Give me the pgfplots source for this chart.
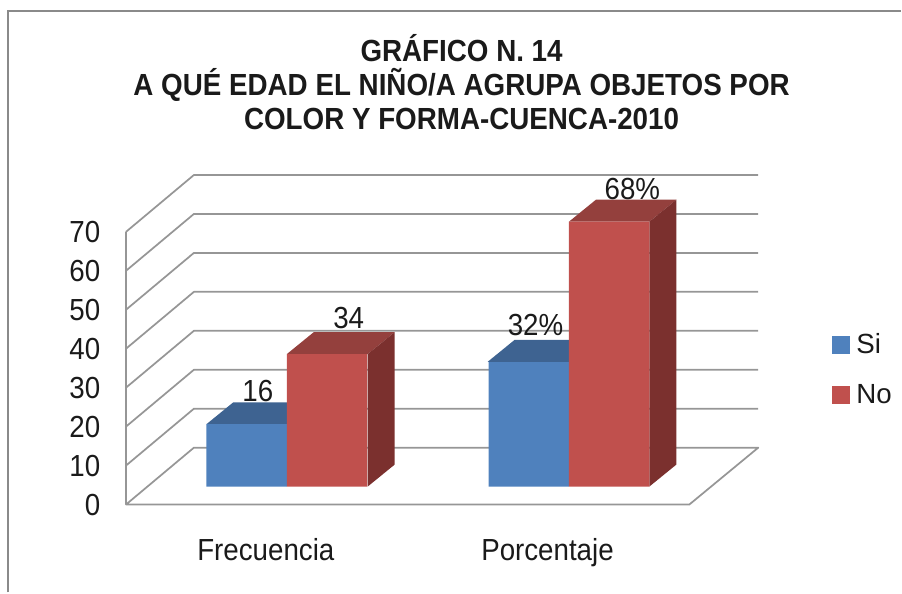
\documentclass[border=0pt]{standalone}
\usepackage{pgfplots}
\pgfplotsset{compat=1.18}
\usepackage{fontspec}
\setmainfont{Liberation Sans}
\definecolor{gridg}{HTML}{969696}
\definecolor{frameg}{HTML}{8A8A8A}
\definecolor{bluef}{HTML}{4F81BD}
\definecolor{bluet}{HTML}{3E6391}
\definecolor{redf}{HTML}{C0504D}
\definecolor{redt}{HTML}{94403D}
\definecolor{reds}{HTML}{7B302E}
\definecolor{txt}{HTML}{1A1A1A}
\pgfplotsset{wall/.style={gridg,line width=1.3pt,no markers,forget plot,line join=round},
 face/.style={draw=none,no markers,forget plot},
 sq/.style={legend image code/.code={\fill[##1] (0pt,-6.75pt) rectangle (13.5pt,6.75pt);}}}
\tikzset{lab/.style={font=\fontsize{20.8}{24}\selectfont,text=txt,yscale=1.1,transform shape}}
\begin{document}
\begin{tikzpicture}
% back structure: scale 3.9 px per unit, floor front at pixel row 505
\begin{axis}[name=back,at={(0,0)},anchor=south west,scale only axis,width=676.5pt,height=444.75pt,
 xmin=0,xmax=902,ymin=-22.564,ymax=129.487,clip=false,
 axis line style={draw=none},major tick length=0pt,xtick=\empty,
 ytick={0,10,20,30,40,50,60,70},
 /pgf/number format/assume math mode=true,
 yticklabel style={lab,xshift=78.75pt}]
\addplot[frameg,line width=1.4pt,no markers,forget plot] coordinates {(8,-22.564)(8,126.7)(902,126.7)};
\addplot[wall] coordinates {(126,70)(194,84.6)(759,84.6)};
\addplot[wall] coordinates {(126,60)(194,74.6)(759,74.6)};
\addplot[wall] coordinates {(126,50)(194,64.6)(759,64.6)};
\addplot[wall] coordinates {(126,40)(194,54.6)(759,54.6)};
\addplot[wall] coordinates {(126,30)(194,44.6)(759,44.6)};
\addplot[wall] coordinates {(126,20)(194,34.6)(759,34.6)};
\addplot[wall] coordinates {(126,10)(194,24.6)(759,24.6)};
\addplot[wall] coordinates {(126,0)(194,14.6)(759,14.6)(690,0)(126,0)(126,70)};
\node[font=\bfseries\fontsize{20.85}{23.2}\selectfont,text=txt,align=center,yscale=1.1,transform shape] at (axis cs:462,108.5) {GRÁFICO N. 14\\A QUÉ EDAD EL NIÑO/A AGRUPA OBJETOS POR\\COLOR Y FORMA-CUENCA-2010};
\end{axis}
% bars: zero at pixel row 487, same scale
\begin{axis}[name=front,at={(0,0)},anchor=south west,scale only axis,width=676.5pt,height=444.75pt,
 xmin=0,xmax=902,ymin=-27.179,ymax=124.872,clip=false,
 axis line style={draw=none},major tick length=0pt,ytick=\empty,
 xtick={266,548},xticklabels={Frecuencia,Porcentaje},
 xticklabel style={lab,yshift=40.5pt},
 legend cell align=left,
 legend style={draw=none,fill=none,at={(axis cs:833,20.1)},anchor=south west,
  font=\fontsize{20.8}{24}\selectfont,text=txt,row sep=17.5pt,inner sep=0pt,
  /tikz/every odd column/.append style={column sep=2.5pt}}]
\addplot[face,fill=bluet] coordinates {(206.5,16)(233.5,21.64)(314,21.64)(287,16)(206.5,16)};
\addplot[ybar,bar shift=-30.2pt,bar width=60.4pt,fill=bluef,draw=none,sq] coordinates {(287,16)(569.5,32)};
\addlegendentry{Si}
\addplot[face,fill=bluet] coordinates {(488,32)(515,37.64)(596,37.64)(569.5,32)(488,32)};
\addplot[face,fill=redt] coordinates {(287,34)(314,39.64)(395,39.64)(368,34)(287,34)};
\addplot[face,fill=reds] coordinates {(368,0)(395,5.64)(395,39.64)(368,34)(368,0)};
\addplot[face,fill=redt] coordinates {(569.5,68)(596.5,73.64)(677,73.64)(650,68)(569.5,68)};
\addplot[face,fill=reds] coordinates {(650,0)(677,5.64)(677,73.64)(650,68)(650,0)};
\addplot[ybar,bar shift=30.2pt,bar width=60.4pt,fill=redf,draw=none,sq] coordinates {(287,34)(569.5,68)};
\addlegendentry{No}
\node[lab] at (axis cs:258,24.6) {16};
\node[lab] at (axis cs:349,43.3) {34};
\node[lab] at (axis cs:536,41.5) {32\%};
\node[lab] at (axis cs:633,76.4) {68\%};
\end{axis}
\end{tikzpicture}
\end{document}
